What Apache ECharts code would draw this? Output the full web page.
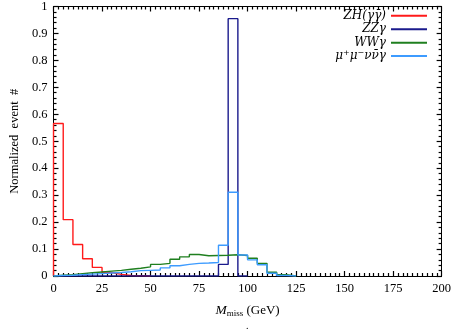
<!DOCTYPE html>
<html>
<head>
<meta charset="utf-8">
<script src="https://cdn.jsdelivr.net/npm/echarts@6/dist/echarts.min.js"></script>
<style>
  html, body { margin: 0; padding: 0; background: #fff; }
  #chart { width: 454px; height: 333px; }
</style>
</head>
<body>
<div id="chart"></div>
<script>
// bin width 5 GeV, starting at 0
var binWidth = 5;
var xTicks = [0, 25, 50, 75, 100, 125, 150, 175, 200];
var seriesNames = ["ZH", "ZZ", "WW", "mumununu"];
var legendLabels = [
  "{i|ZH}{n|(}{i|γγ̄}{n|)}",
  "{i|ZZγ}",
  "{i|WWγ}",
  "{i|μ}{p|+}{i|μ}{p|−}{i|νν̄γ}"
];

// normalized entries per bin (0-5, 5-10, ...)
var zhValues = [0.566, 0.209, 0.117, 0.064, 0.032, 0.013, 0.006, 0.002, 0.001];
var zzValues = [0, 0, 0, 0, 0, 0, 0, 0, 0, 0, 0, 0, 0, 0, 0, 0, 0, 0.043, 0.955];
var wwValues = [0.003, 0.005, 0.009, 0.012, 0.015, 0.018, 0.021, 0.025, 0.029, 0.034,
                0.043, 0.047, 0.062, 0.071, 0.080, 0.075, 0.076, 0.077, 0.079, 0.076,
                0.066, 0.047, 0.014, 0.005];
var mmnnValues = [0.002, 0.003, 0.005, 0.007, 0.009, 0.011, 0.013, 0.016, 0.020, 0.021,
                  0.022, 0.030, 0.038, 0.043, 0.047, 0.048, 0.050, 0.114, 0.311, 0.078,
                  0.060, 0.042, 0.010, 0.002];

var colors = ["#ff1a1a", "#1a1a8c", "#1f7f1f", "#3d9bff"];

// histogram outline points: start at (0,0), value reached at each bin's right edge
function histPoints(vals) {
  var pts = [[0, 0]];
  for (var i = 0; i < vals.length; i++) {
    pts.push([(i + 1) * binWidth, vals[i]]);
  }
  pts.push([(vals.length + 1) * binWidth, 0]);
  return pts;
}

var serifFont = "Liberation Serif";
var mathFont = "DejaVu Serif";
var myChart = echarts.init(document.getElementById("chart"));

function makeAxis(showLabel, splits, extra) {
  var ax = {
    type: "value",
    axisLine: { show: true, onZero: false, lineStyle: { color: "#000", width: 1 } },
    axisTick: { show: true, inside: true, length: 5, lineStyle: { color: "#000", width: 1.2 } },
    minorTick: { show: true, splitNumber: splits, length: 3, lineStyle: { color: "#000", width: 1.2 } },
    splitLine: { show: false },
    axisLabel: {
      show: showLabel, color: "#000", fontFamily: serifFont, fontSize: 12.5, margin: 6
    }
  };
  for (var k in extra) ax[k] = extra[k];
  return ax;
}

var xBottom = makeAxis(true, 10, {
  min: 0, max: 200, interval: 25, position: "bottom",
  name: "{i|M}{s|miss} (GeV)",
  nameLocation: "middle", nameGap: 27,
  nameTextStyle: {
    color: "#000", fontFamily: serifFont, fontSize: 13,
    rich: {
      i: { fontFamily: serifFont, fontStyle: "italic", fontSize: 13.5, color: "#000" },
      s: { fontFamily: serifFont, fontSize: 9, verticalAlign: "bottom", padding: [6, 0, 0, 0], color: "#000" }
    }
  }
});
var xTop = makeAxis(false, 10, { min: 0, max: 200, interval: 25, position: "top" });
var yLeft = makeAxis(true, 5, {
  min: 0, max: 1, interval: 0.1, position: "left",
  name: "Normalized  event  #",
  nameLocation: "middle", nameGap: 32,
  nameTextStyle: { color: "#000", fontFamily: serifFont, fontSize: 12.5 }
});
var yRight = makeAxis(false, 5, { min: 0, max: 1, interval: 0.1, position: "right" });

var allValues = [zhValues, zzValues, wwValues, mmnnValues];
var series = allValues.map(function (vals, k) {
  return {
    name: seriesNames[k],
    type: "line",
    step: "start",
    data: histPoints(vals),
    showSymbol: false,
    symbol: "none",
    lineStyle: { color: colors[k], width: 1.4 },
    itemStyle: { color: colors[k] }
  };
});

// one legend box per row so rows sit at fixed heights
var legendRowCenters = [15.7, 29.3, 42.7, 56];
var legends = seriesNames.map(function (name, k) {
  return {
    orient: "vertical",
    right: 27,
    top: legendRowCenters[k] - 7,
    align: "right",
    itemWidth: 36,
    itemHeight: 2,
    icon: "rect",
    padding: 0,
    selectedMode: false,
    data: [name],
    formatter: function (n) { return legendLabels[seriesNames.indexOf(n)]; },
    textStyle: {
      color: "#000", fontFamily: mathFont, fontStyle: "italic", fontSize: 12, lineHeight: 14,
      rich: {
        i: { fontFamily: mathFont, fontStyle: "italic", fontSize: 12, color: "#000", lineHeight: 14 },
        n: { fontFamily: mathFont, fontSize: 12, color: "#000", lineHeight: 14 },
        p: { fontFamily: mathFont, fontSize: 8, color: "#000", lineHeight: 14, verticalAlign: "top" }
      }
    }
  };
});

var option = {
  animation: false,
  grid: { left: 52, right: 11, top: 5, bottom: 57 },
  legend: legends,
  xAxis: [xBottom, xTop],
  yAxis: [yLeft, yRight],
  series: series,
  graphic: [{
    type: "text", left: 246, top: 321,
    style: { text: ".", fill: "#000", font: "10px " + serifFont }
  }]
};

myChart.setOption(option);
</script>
</body>
</html>
